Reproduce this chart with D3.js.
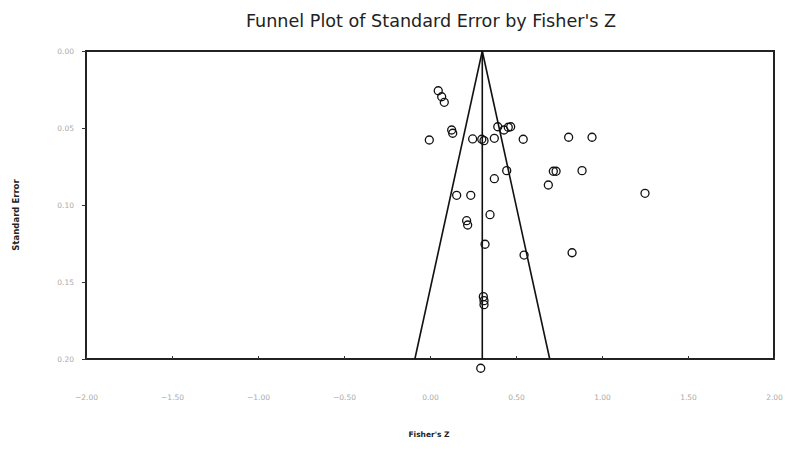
<!DOCTYPE html>
<html>
<head>
<meta charset="utf-8">
<script src="https://cdn.jsdelivr.net/npm/d3@7"></script>
<style>
  html, body { margin: 0; padding: 0; background: #fff; }
  svg { display: block; }
</style>
</head>
<body>
<svg id="chart" width="798" height="455"></svg>
<script>
// ---- data ----
const fisherZ = [0.048, 0.068, 0.083, 0.126, 0.132, -0.004, 0.248, 0.301, 0.314, 0.374,
  0.394, 0.430, 0.455, 0.469, 0.542, 0.806, 0.942, 0.446, 0.717, 0.733,
  0.884, 0.374, 0.688, 1.250, 0.155, 0.237, 0.349, 0.213, 0.219, 0.320,
  0.547, 0.826, 0.310, 0.314, 0.314, 0.295];
const stdErr = [0.0258, 0.0297, 0.0333, 0.0513, 0.0534, 0.0578, 0.0571, 0.0573, 0.0582, 0.0567,
  0.0492, 0.0513, 0.0495, 0.0492, 0.0573, 0.0560, 0.0560, 0.0777, 0.0781, 0.0781,
  0.0777, 0.0829, 0.0870, 0.0924, 0.0937, 0.0937, 0.1063, 0.1102, 0.1130, 0.1255,
  0.1325, 0.1310, 0.1595, 0.1621, 0.1647, 0.2060];
const meanZ = 0.304;
const xTicks = [-2.0, -1.5, -1.0, -0.5, 0.0, 0.5, 1.0, 1.5, 2.0];
const yTicks = [0.00, 0.05, 0.10, 0.15, 0.20];
const titleText = "Funnel Plot of Standard Error by Fisher's Z";
const xLabel = "Fisher's Z";
const yLabel = "Standard Error";

// ---- layout ----
const svg = d3.select("#chart");
const L = 86, R = 774, T = 51, B = 359;
const x = d3.scaleLinear().domain([-2, 2]).range([L, R]);
const y = d3.scaleLinear().domain([0, 0.2]).range([T, B]);

svg.append("rect").attr("width", 798).attr("height", 455).attr("fill", "#fff");

// title
svg.append("text")
  .attr("x", 431).attr("y", 27)
  .attr("text-anchor", "middle")
  .attr("font-family", "DejaVu Sans")
  .attr("font-size", 17.6)
  .attr("fill", "#222")
  .text(titleText);

// frame
svg.append("rect")
  .attr("x", L).attr("y", T)
  .attr("width", R - L).attr("height", B - T)
  .attr("fill", "none").attr("stroke", "#222").attr("stroke-width", 2);

// x axis (inner ticks)
const xAxis = d3.axisBottom(x).tickValues(xTicks).tickSizeInner(-3).tickSizeOuter(0)
  .tickFormat(d3.format(".2f")).tickPadding(36);
const gx = svg.append("g").attr("transform", `translate(0,${B})`).call(xAxis);
gx.select(".domain").remove();
gx.selectAll("line").attr("stroke", "#333");
gx.selectAll("text").attr("font-family", "DejaVu Sans").attr("font-size", 7.5).attr("fill", "#aaa");

// y axis (outer ticks)
const yAxis = d3.axisLeft(y).tickValues(yTicks).tickSize(4).tickSizeOuter(0)
  .tickFormat(d3.format(".2f")).tickPadding(8);
const gy = svg.append("g").attr("transform", `translate(${L},0)`).call(yAxis);
gy.select(".domain").remove();
gy.selectAll("line").attr("stroke", "#333");
gy.selectAll("text").attr("font-family", "DejaVu Sans").attr("font-size", 7.5).attr("fill", "#aaa");

// axis titles
svg.append("text")
  .attr("x", 429).attr("y", 437)
  .attr("text-anchor", "middle")
  .attr("font-family", "DejaVu Sans").attr("font-weight", "bold")
  .attr("font-size", 7.5).attr("fill", "#222")
  .text(xLabel);
svg.append("text")
  .attr("transform", "translate(19,215) rotate(-90)")
  .attr("text-anchor", "middle")
  .attr("font-family", "DejaVu Sans").attr("font-weight", "bold")
  .attr("font-size", 8.5).attr("fill", "#222")
  .text(yLabel);

// funnel
const seMax = 0.2;
const funnel = [
  [[meanZ, 0], [meanZ - 1.96 * seMax, seMax]],
  [[meanZ, 0], [meanZ + 1.96 * seMax, seMax]],
  [[meanZ, 0], [meanZ, seMax]]
];
const line = d3.line().x(d => x(d[0])).y(d => y(d[1]));
svg.append("g").selectAll("path").data(funnel).join("path")
  .attr("d", line).attr("fill", "none").attr("stroke", "#111").attr("stroke-width", 1.6);

// points
const pts = fisherZ.map((z, i) => ({ z, se: stdErr[i] }));
svg.append("g").selectAll("circle").data(pts).join("circle")
  .attr("cx", d => x(d.z)).attr("cy", d => y(d.se))
  .attr("r", 4)
  .attr("fill", "none").attr("stroke", "#111").attr("stroke-width", 1.3);
</script>
</body>
</html>
